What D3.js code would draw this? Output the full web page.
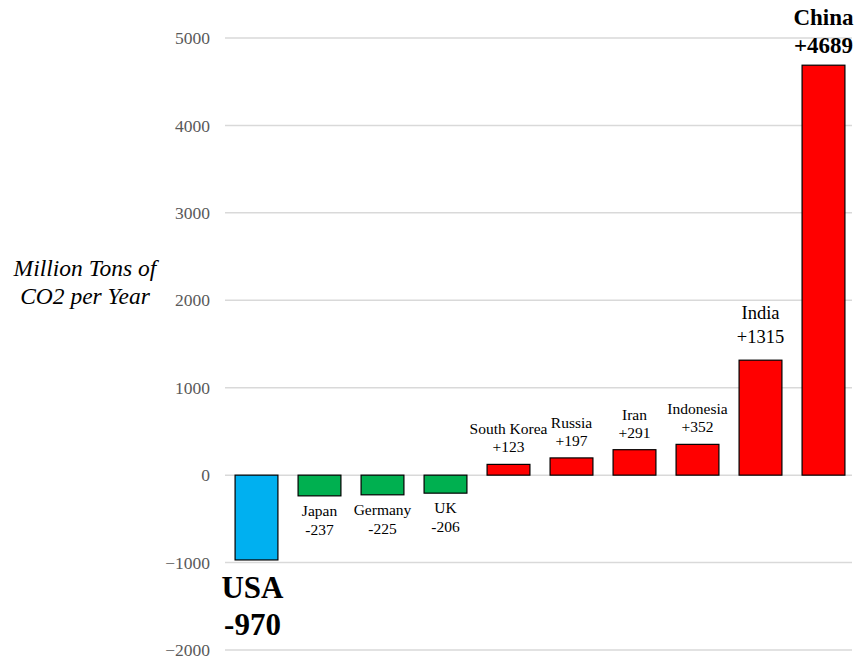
<!DOCTYPE html>
<html>
<head>
<meta charset="utf-8">
<script src="https://cdn.jsdelivr.net/npm/d3@7"></script>
<style>
  body { margin: 0; background: #fff; }
  text { font-family: "Liberation Serif", "Times New Roman", serif; }
</style>
</head>
<body>
<div id="chart"></div>
<script>
// data
var countries = ["USA", "Japan", "Germany", "UK", "South Korea", "Russia", "Iran", "Indonesia", "India", "China"];
var changes = [-970, -237, -225, -206, 123, 197, 291, 352, 1315, 4689];
var yTicks = [-2000, -1000, 0, 1000, 2000, 3000, 4000, 5000];

var svgWidth = 854;
var svgHeight = 658;

var svg = d3.select("#chart")
  .append("svg")
  .attr("width", svgWidth)
  .attr("height", svgHeight);

var x = d3.scaleBand()
  .domain(countries)
  .range([225, 855])
  .paddingInner(0.32)
  .paddingOuter(0.16);

var y = d3.scaleLinear()
  .domain([-2000, 5000])
  .range([650, 38]);

var data = countries.map(function(c, i) { return { name: c, value: changes[i] }; });

// gridlines + tick labels
var leftAxis = d3.axisLeft(y)
  .tickValues(yTicks)
  .tickFormat(d3.format("d"))
  .tickSize(0)
  .tickPadding(15);

var axisG = svg.append("g")
  .attr("transform", "translate(225,0)")
  .call(leftAxis);
axisG.select(".domain").remove();
axisG.selectAll("text")
  .style("font-family", "'Liberation Serif', serif")
  .style("font-size", "17.5px")
  .attr("fill", "#595959");

svg.append("g")
  .selectAll("line")
  .data(yTicks)
  .enter()
  .append("line")
  .attr("x1", 225)
  .attr("x2", 852)
  .attr("y1", function(d) { return y(d); })
  .attr("y2", function(d) { return y(d); })
  .attr("stroke", "#d9d9d9")
  .attr("stroke-width", 1.5);

// axis title
var yTitle = svg.append("text")
  .attr("text-anchor", "middle")
  .style("font-style", "italic")
  .style("font-size", "23.5px")
  .attr("fill", "#000");
yTitle.append("tspan").attr("x", 85).attr("y", 276).text("Million Tons of");
yTitle.append("tspan").attr("x", 85).attr("y", 304).text("CO2 per Year");

// bars
function barColor(d) {
  if (d.name === "USA") return "#00B0F0";
  return d.value < 0 ? "#00B050" : "#FF0000";
}

svg.append("g")
  .selectAll("rect")
  .data(data)
  .enter()
  .append("rect")
  .attr("x", function(d) { return x(d.name); })
  .attr("width", x.bandwidth())
  .attr("y", function(d) { return y(Math.max(0, d.value)); })
  .attr("height", function(d) { return Math.abs(y(d.value) - y(0)); })
  .attr("fill", barColor)
  .attr("stroke", "#000")
  .attr("stroke-width", 1.2);

// labels
function labelStyle(d) {
  if (d.name === "USA") return { size: 31, bold: true, gap: 38, lh: 37 };
  if (d.name === "China") return { size: 23, bold: true, gap: 12, lh: 28 };
  if (d.name === "India") return { size: 18.5, bold: false, gap: 17, lh: 24 };
  return { size: 15.5, bold: false, gap: 12, lh: 18 };
}

var labels = svg.append("g")
  .selectAll("text")
  .data(data)
  .enter()
  .append("text")
  .attr("text-anchor", "middle")
  .style("font-size", function(d) { return labelStyle(d).size + "px"; })
  .style("font-weight", function(d) { return labelStyle(d).bold ? "bold" : "normal"; })
  .attr("fill", "#000");

labels.each(function(d) {
  var s = labelStyle(d);
  var cx = x(d.name) + x.bandwidth() / 2;
  if (d.name === "USA") cx -= 4;
  var t = d3.select(this);
  var valText = (d.value > 0 ? "+" : "") + d.value;
  if (d.value < 0) {
    var y1 = y(d.value) + (d.name === "USA" ? s.gap : 20);
    t.append("tspan").attr("x", cx).attr("y", y1).text(d.name);
    t.append("tspan").attr("x", cx).attr("y", y1 + (d.name === "USA" ? s.lh : 19)).text(valText);
  } else {
    var y2 = y(d.value) - s.gap;
    t.append("tspan").attr("x", cx).attr("y", y2 - s.lh).text(d.name);
    t.append("tspan").attr("x", cx).attr("y", y2).text(valText);
  }
});
</script>
</body>
</html>
